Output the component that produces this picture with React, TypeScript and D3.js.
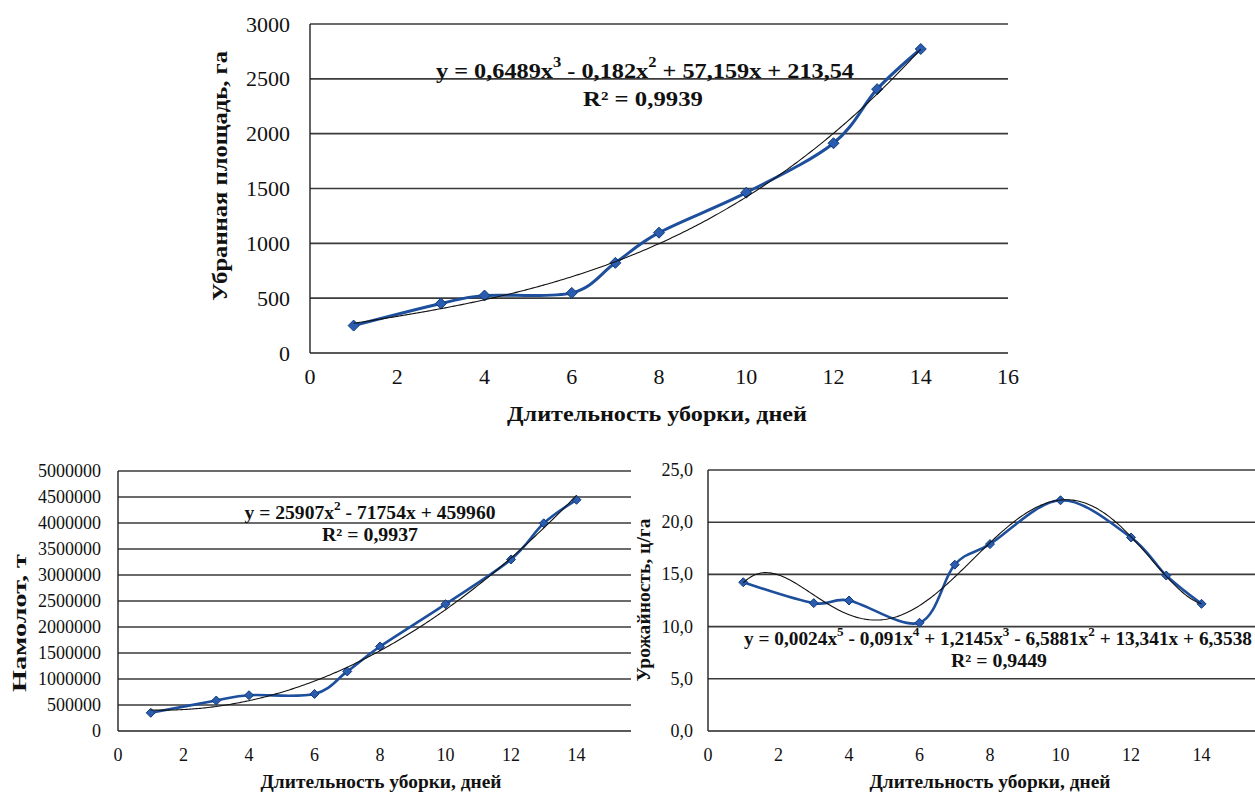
import React from "react";
import * as d3 from "d3";

// ---------- DATA ----------
const days = [1, 3, 4, 6, 7, 8, 10, 12, 13, 14];
const harvestedArea = [250, 451, 524, 548, 822, 1097, 1462, 1913, 2406, 2772];
const grainTons = [350000, 586000, 688000, 713000, 1146000, 1624000, 2439000, 3299000, 3994000, 4446000];
const yieldPerHa = [14.25, 12.25, 12.5, 10.37, 15.93, 17.9, 22.1, 18.54, 14.89, 12.18];

const topXTicks = [0, 2, 4, 6, 8, 10, 12, 14, 16];
const bottomXTicks = [0, 2, 4, 6, 8, 10, 12, 14];
const areaTicks = [0, 500, 1000, 1500, 2000, 2500, 3000];
const tonTicks = [0, 500000, 1000000, 1500000, 2000000, 2500000, 3000000, 3500000, 4000000, 4500000, 5000000];
const yieldTicks = [0, 5, 10, 15, 20, 25];

const xTitle = "Длительность уборки, дней";
const areaTitle = "Убранная площадь, га";
const tonTitle = "Намолот, т";
const yieldTitle = "Урожайность, ц/га";

// equation text parts: [text, isSuperscript]
const areaEq: [string, boolean][] = [["y = 0,6489x", false], ["3", true], [" - 0,182x", false], ["2", true], [" + 57,159x + 213,54", false]];
const tonEq: [string, boolean][] = [["y = 25907x", false], ["2", true], [" - 71754x + 459960", false]];
const yieldEq: [string, boolean][] = [["y = 0,0024x", false], ["5", true], [" - 0,091x", false], ["4", true], [" + 1,2145x", false], ["3", true], [" - 6,5881x", false], ["2", true], [" + 13,341x + 6,3538", false]];
const areaR2 = "R² = 0,9939";
const tonR2 = "R² = 0,9937";
const yieldR2 = "R² = 0,9449";

// ---------- least squares polynomial (trend line, as the spreadsheet computes it) ----------
function polyfit(xs: number[], ys: number[], deg: number) {
  const s = 10;
  const n = deg + 1;
  const M: number[][] = Array.from({ length: n }, () => new Array(n + 1).fill(0));
  xs.forEach((xv, k) => {
    const t = xv / s;
    for (let i = 0; i < n; i++) {
      for (let j = 0; j < n; j++) M[i][j] += Math.pow(t, i + j);
      M[i][n] += Math.pow(t, i) * ys[k];
    }
  });
  for (let c = 0; c < n; c++) {
    let p = c;
    for (let r = c + 1; r < n; r++) if (Math.abs(M[r][c]) > Math.abs(M[p][c])) p = r;
    [M[c], M[p]] = [M[p], M[c]];
    for (let r = 0; r < n; r++) {
      if (r === c) continue;
      const f = M[r][c] / M[c][c];
      for (let k = c; k <= n; k++) M[r][k] -= f * M[c][k];
    }
  }
  const coef = M.map((row, i) => row[n] / row[i]);
  return (xv: number) => coef.reduce((acc, cf, i) => acc + cf * Math.pow(xv / s, i), 0);
}

const FONT = "'Liberation Serif', 'Times New Roman', serif";
const LINE = "#1d4f9c";

type Panel = {
  ys: number[];
  deg: number;
  xRange: [number, number];
  gridRight: number;
  yDomain: [number, number];
  yRange: [number, number];
  xTicks: number[];
  yTicks: number[];
  fmt: (v: number) => string;
  tickSize: number;
  tickEnd: number;
  xTickY: number;
  xTitlePos: [number, number, number];
  yTitle: string;
  yTitlePos: [number, number, number];
  eq: [string, boolean][];
  eqPos: [number, number, number];
  r2: string;
  r2Pos: [number, number, number];
  titleSize: number;
  lineW: number;
  marker: number;
};

function ChartPanel({ p }: { p: Panel }) {
  const x = d3.scaleLinear().domain([0, 16]).range(p.xRange);
  const y = d3.scaleLinear().domain(p.yDomain).range(p.yRange);
  const pts: [number, number][] = days.map((d, i) => [d, p.ys[i]]);
  const line = d3
    .line<[number, number]>()
    .x((d) => x(d[0]))
    .y((d) => y(d[1]))
    .curve(d3.curveCatmullRom.alpha(0));
  const fit = polyfit(days, p.ys, p.deg);
  const trendPts: [number, number][] = d3.range(1, 14.001, 0.05).map((v) => [v, fit(v)]);
  const trend = d3
    .line<[number, number]>()
    .x((d) => x(d[0]))
    .y((d) => y(d[1]))
    .curve(d3.curveLinear);
  const x0 = p.xRange[0];
  const m = p.marker;
  return (
    <g>
      {p.yTicks.map((t) => (
        <line key={"g" + t} x1={x0} x2={p.gridRight} y1={y(t)} y2={y(t)} stroke={t === 0 ? "#222" : "#3a3a3a"} strokeWidth={t === 0 ? 1.4 : 1.6} />
      ))}
      <line x1={x0} x2={x0} y1={y(p.yDomain[0])} y2={y(p.yDomain[1])} stroke="#222" strokeWidth={1.4} />
      {p.yTicks.map((t) => (
        <text key={"yt" + t} x={p.tickEnd} y={y(t)} textAnchor="end" dominantBaseline="central" fontSize={p.tickSize} fontFamily={FONT} fill="#111">
          {p.fmt(t)}
        </text>
      ))}
      {p.xTicks.map((t) => (
        <text key={"xt" + t} x={x(t)} y={p.xTickY} textAnchor="middle" dominantBaseline="central" fontSize={p.tickSize} fontFamily={FONT} fill="#111">
          {t}
        </text>
      ))}
      <path d={line(pts) || ""} fill="none" stroke={LINE} strokeWidth={p.lineW} strokeLinejoin="round" />
      {pts.map((d, i) => (
        <path
          key={"m" + i}
          d={`M${x(d[0])},${y(d[1]) - m}L${x(d[0]) + m},${y(d[1])}L${x(d[0])},${y(d[1]) + m}L${x(d[0]) - m},${y(d[1])}Z`}
          fill="#2a5db0"
          stroke="#123a7a"
          strokeWidth={1}
        />
      ))}
      <path d={trend(trendPts) || ""} fill="none" stroke="#111" strokeWidth={1.1} />
      <text x={p.eqPos[0]} y={p.eqPos[1]} textAnchor="middle" dominantBaseline="central" fontSize={p.titleSize} fontWeight="bold" fontFamily={FONT} fill="#111" textLength={p.eqPos[2]} lengthAdjust="spacingAndGlyphs">
        {p.eq.map(([s, sup], i) =>
          sup ? (
            <tspan key={i} fontSize={p.titleSize * 0.68} dy={-p.titleSize * 0.38}>{s}</tspan>
          ) : (
            <tspan key={i} dy={i > 0 ? p.titleSize * 0.38 : 0}>{s}</tspan>
          )
        )}
      </text>
      <text x={p.r2Pos[0]} y={p.r2Pos[1]} textAnchor="middle" dominantBaseline="central" fontSize={p.titleSize} fontWeight="bold" fontFamily={FONT} fill="#111" textLength={p.r2Pos[2]} lengthAdjust="spacingAndGlyphs">
        {p.r2}
      </text>
      <text x={p.xTitlePos[0]} y={p.xTitlePos[1]} textAnchor="middle" dominantBaseline="central" fontSize={p.titleSize} fontWeight="bold" fontFamily={FONT} fill="#111" textLength={p.xTitlePos[2]} lengthAdjust="spacingAndGlyphs">
        {xTitle}
      </text>
      <text
        transform={`translate(${p.yTitlePos[0]},${p.yTitlePos[1]}) rotate(-90)`}
        textAnchor="middle"
        dominantBaseline="central"
        fontSize={p.titleSize}
        fontWeight="bold"
        fontFamily={FONT}
        fill="#111"
        textLength={p.yTitlePos[2]}
        lengthAdjust="spacingAndGlyphs"
      >
        {p.yTitle}
      </text>
    </g>
  );
}

const intFmt = (v: number) => String(v);
const commaFmt = (v: number) => d3.format(".1f")(v).replace(".", ",");

const panels: Panel[] = [
  {
    ys: harvestedArea, deg: 3, xRange: [310, 1008], gridRight: 1008, yDomain: [0, 3000], yRange: [353, 24],
    xTicks: topXTicks, yTicks: areaTicks, fmt: intFmt, tickSize: 22, tickEnd: 290, xTickY: 376,
    xTitlePos: [657, 413, 300], yTitle: areaTitle, yTitlePos: [219, 176, 250],
    eq: areaEq, eqPos: [645, 70, 418], r2: areaR2, r2Pos: [643, 98, 120], titleSize: 22, lineW: 3, marker: 5.5,
  },
  {
    ys: grainTons, deg: 2, xRange: [118, 642], gridRight: 631, yDomain: [0, 5000000], yRange: [731, 471],
    xTicks: bottomXTicks, yTicks: tonTicks, fmt: intFmt, tickSize: 18, tickEnd: 101, xTickY: 755,
    xTitlePos: [381, 782, 241], yTitle: tonTitle, yTitlePos: [20, 623, 138],
    eq: tonEq, eqPos: [370, 513, 251], r2: tonR2, r2Pos: [370, 535, 96], titleSize: 18, lineW: 2.6, marker: 4.5,
  },
  {
    ys: yieldPerHa, deg: 5, xRange: [708, 1272], gridRight: 1255, yDomain: [0, 25], yRange: [731, 470],
    xTicks: bottomXTicks, yTicks: yieldTicks, fmt: commaFmt, tickSize: 18, tickEnd: 693, xTickY: 755,
    xTitlePos: [990, 782, 241], yTitle: yieldTitle, yTitlePos: [644, 600, 163],
    eq: yieldEq, eqPos: [998, 639, 508], r2: yieldR2, r2Pos: [999, 661, 96], titleSize: 18, lineW: 2.6, marker: 4.5,
  },
];

export default function App() {
  return (
    <svg width={1255} height={792} style={{ position: "absolute", left: 0, top: 0, background: "#fff" }}>
      <rect width={1255} height={792} fill="#fff" />
      {panels.map((p, i) => (
        <ChartPanel key={i} p={p} />
      ))}
    </svg>
  );
}
